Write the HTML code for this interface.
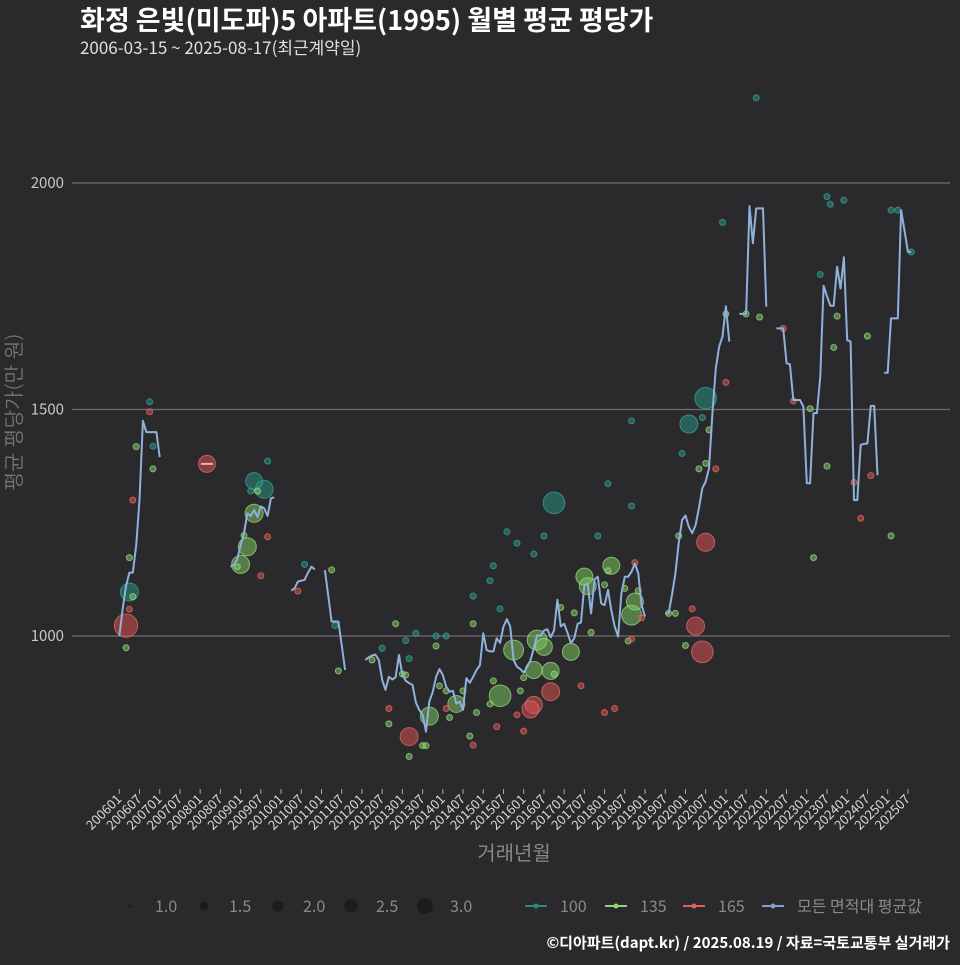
<!DOCTYPE html>
<html><head><meta charset="utf-8">
<style>
html,body{margin:0;padding:0;background:#2a2a2c;}
body{width:960px;height:960px;overflow:hidden;font-family:"Noto Sans CJK KR","Liberation Sans",sans-serif;}
svg text{font-family:"Noto Sans CJK KR","Liberation Sans",sans-serif;}
</style></head>
<body>
<svg id="chart" width="960" height="960" viewBox="0 0 960 960" xmlns="http://www.w3.org/2000/svg">
<rect x="0" y="0" width="960" height="960" fill="#2a2a2c"/>
<text x="80" y="30" font-size="27" font-weight="bold" fill="#ffffff">화정 은빛(미도파)5 아파트(1995) 월별 평균 평당가</text>
<text x="80" y="54" font-size="17" fill="#e0e0e0">2006-03-15 ~ 2025-08-17(최근계약일)</text>
<g id="grid"></g>
<g id="yticks"></g>
<g id="xticks"></g>
<g id="bubbles"></g>
<g id="lines"></g>
<text transform="translate(21,412) rotate(-90)" text-anchor="middle" font-size="20" fill="#777" style="font-family:'NanumGothic','Noto Sans CJK KR',sans-serif">평균 평당가(만 원)</text>
<text x="514" y="860" text-anchor="middle" font-size="20" fill="#888">거래년월</text>
<g id="legend"></g>
<text x="950" y="948" text-anchor="end" font-size="15" font-weight="bold" fill="#ffffff">©디아파트(dapt.kr) / 2025.08.19 / 자료=국토교통부 실거래가</text>
</svg>
<script>
// ---- data ----
const yTicks = [1000, 1500, 2000];
const xTickLabels = ['200601','200607','200701','200707','200801','200807','200901','200907','201001','201007','201101','201107','201201','201207','201301','201307','201401','201407','201501','201507','201601','201607','201701','201707','201801','201807','201901','201907','202001','202007','202101','202107','202201','202207','202301','202307','202401','202407','202501','202507'];
// average line segments: start month and monthly values
const lineStarts = ['200601','200810','201004','201102','201202','201907','202105','202204','202412'];
const lineValues = [
 [1000,1060,1110,1140,1140,1200,1300,1475,1450,1450,1450,1450,1395],
 [1153,1157,1170,1200,1227,1271,1265,1278,1263,1286,1282,1265,1304,1306],
 [1100,1105,1120,1122,1124,1140,1153,1147],
 [1145,1090,1032,1032,1032,980,925],
 [947,953,957,959,947,903,881,910,904,909,958,913,901,896,892,853,837,826,789,855,876,910,927,914,888,877,879,851,855,837,907,897,910,925,935,1006,969,966,966,995,985,1021,1037,1021,947,932,927,919,932,946,973,1002,1000,1012,1015,997,1012,1080,1021,1027,1007,984,995,1027,1030,1113,1115,1050,1125,1131,1072,1068,1102,1057,1021,999,1094,1131,1131,1142,1160,1138,1068,1043],
 [1050,1050,1091,1138,1205,1256,1266,1241,1227,1245,1282,1326,1341,1370,1491,1591,1639,1661,1728,1650],
 [1711,1711,1711,1949,1867,1944,1944,1944,1727],
 [1679,1679,1679,1602,1600,1521,1521,1521,1506,1337,1337,1492,1492,1573,1773,1750,1729,1729,1815,1767,1836,1653,1650,1300,1300,1422,1424,1425,1508,1508,1355],
 [1581,1581,1701,1701,1701,1940,1895,1848,1848]
];
// bubbles (parallel arrays): month, value, count, area type
const bubbleMonths = [
'200610','200610','200606','200611','200611','200605','200604','200604','200605','200604',
'200603','200603','200803','200909','200905','200908','200904','200906','200905','200909',
'200902','200903','200901','200812','200907','201008','201006','201104','201105','201106',
'201610','201802','201809','201508','201511','201607','201711','201604','201504','201503',
'201410','201506','201211','201410','201810','201803','201707','201708','201802','201801',
'201807','201811','201810','201809','201812','201704','201612','201709','201808','201809',
'201305','201311','201402','201207','201302','201303','201311','201204','201301','201302',
'201510','201605','201607','201604','201609','201703','201601','201610','201504','201512',
'201312','201402','201407','201506','201405','201309','201609','201604','201603','201706',
'201209','201402','201801','201804','201511','201505','201601','201410','201303','201209',
'201411','201503','201403','201409','201307','201308','201303','202307','202308','202312',
'202012','202502','202504','202508','202305','202310','202309','202407','202101','202107',
'202111','202206','202101','202209','202302','202007','202006','202002','202008','201912',
'202007','202005','202010','202307','202403','202408','202405','202502','202303','201911',
'202007','201908','201910','202003','202004','202001','202006','201809','202110'];
const bubbleValues = [
1517,1495,1418,1419,1369,1300,1173,1097,1087,1059,
1023,974,1380,1386,1342,1324,1320,1320,1271,1219,
1222,1197,1158,1153,1133,1158,1099,1146,1023,923,
1294,1336,1287,1230,1205,1221,1221,1181,1155,1122,
1088,1060,1027,1027,1162,1155,1131,1110,1144,1113,
1105,1100,1076,1046,1040,1051,1063,1008,989,993,
1006,1000,1000,973,990,950,978,947,916,914,
969,991,976,925,923,965,908,916,901,879,
890,879,879,868,850,823,877,848,838,890,
840,840,831,840,826,800,790,759,778,806,
831,850,820,779,758,758,734,1970,1953,1962,
1913,1940,1940,1848,1798,1706,1637,1662,1711,1711,
1704,1679,1560,1519,1502,1525,1482,1468,1455,1403,
1381,1369,1369,1375,1339,1354,1260,1221,1173,1221,
1207,1050,1050,1060,1022,979,965,1475,2188];
const bubbleCounts = [
1,1,1,1,1,1,1,9,1,1,
15,1,8,1,8,9,1,1,9,1,
1,9,9,1,1,1,1,1,1,1,
13,1,1,1,1,1,1,1,1,1,
1,1,1,1,1,8,8,8,1,1,
1,1,8,11,1,1,1,1,1,1,
1,1,1,1,1,1,1,1,1,1,
11,11,8,8,8,8,1,1,1,1,
1,1,1,13,8,9,9,8,8,1,
1,1,1,1,1,1,1,1,9,1,
1,1,1,1,1,1,1,1,1,1,
1,1,1,1,1,1,1,1,1,1,
1,1,1,1,1,13,1,9,1,1,
1,1,1,1,1,1,1,1,1,1,
9,1,1,1,9,1,13,1,1];
const bubbleTypes = [
'100','165','135','100','135','165','135','100','135','165',
'165','135','165','100','100','100','100','135','135','165',
'135','135','135','135','165','100','165','135','100','135',
'100','100','100','100','100','100','100','100','100','100',
'100','100','135','135','165','135','135','135','135','135',
'135','135','135','135','165','135','135','135','135','165',
'100','100','100','100','100','100','135','135','135','135',
'135','135','135','135','135','135','135','135','135','135',
'135','135','135','135','135','135','165','165','165','165',
'165','165','165','165','165','165','165','165','165','135',
'135','135','135','135','135','135','135','100','100','100',
'100','100','100','100','100','135','135','135','135','135',
'135','165','165','165','135','100','100','100','135','100',
'135','135','165','135','165','165','165','135','135','135',
'165','135','135','165','165','135','165','100','100'];
// ---- scales ----
const X0 = 119.3, PXM = 3.37;
function monthIndex(s){ return (parseInt(s.slice(0,4))-2006)*12 + parseInt(s.slice(4,6))-1; }
function xs(m){ return X0 + m*PXM; }
function ys(v){ return 636 - (v-1000)*0.453; }
function rs(n){ return 3*Math.sqrt(n); }
const NS='http://www.w3.org/2000/svg';
function mk(tag, attrs, parent){ const e=document.createElementNS(NS,tag); for(const k in attrs) e.setAttribute(k, attrs[k]); parent.appendChild(e); return e; }
const colors = {'100':'rgba(40,140,128,0.55)','135':'rgba(130,205,100,0.5)','165':'rgba(215,80,80,0.55)'};
const strokes = {'100':'rgba(60,170,155,0.7)','135':'rgba(160,230,130,0.7)','165':'rgba(240,110,110,0.7)'};
// grid + y ticks
const grid=document.getElementById('grid'), yt=document.getElementById('yticks');
yTicks.forEach(v=>{
  const l=mk('line',{x1:72,x2:950,y1:ys(v),y2:ys(v),stroke:'#6e6e6e','stroke-width':1.2},grid);
  
  
  const t=mk('text',{x:64,y:ys(v)+5,'text-anchor':'end','font-size':15,fill:'#c8c8c8'},yt);
  t.textContent=v;
  
  
});
// x ticks
const xt=document.getElementById('xticks');
xTickLabels.forEach(lbl=>{
  const x=xs(monthIndex(lbl));
  const tk=mk('line',{x1:x,x2:x,y1:789,y2:794,stroke:'#aaa','stroke-width':1},xt);
  
  
  const t=mk('text',{x:x+3,y:800,'text-anchor':'end','font-size':13,fill:'#d8d8d8',transform:'rotate(-45 '+(x+3)+' 800)'},xt);
  t.textContent=lbl;
  
  
});
// bubbles
const bg=document.getElementById('bubbles');
const order=bubbleCounts.map((c,i)=>i).sort((a,b)=>bubbleCounts[b]-bubbleCounts[a]);
order.forEach(i=>{
  const tp=bubbleTypes[i];
  const c=mk('circle',{cx:xs(monthIndex(bubbleMonths[i])),cy:ys(bubbleValues[i]),r:rs(bubbleCounts[i]),fill:colors[tp],stroke:strokes[tp],'stroke-width':1},bg);
  
  
});
// red short line 2008
const rl=mk('line',{x1:xs(monthIndex('200803'))-6,x2:xs(monthIndex('200803'))+6,y1:ys(1380),y2:ys(1380),stroke:'#f0b0b0','stroke-width':2},bg);


// average line
const lg=document.getElementById('lines');
lineStarts.forEach((s,k)=>{
  const m0=monthIndex(s);
  const pts=lineValues[k].map((v,j)=>xs(m0+j).toFixed(1)+','+ys(v).toFixed(1)).join(' ');
  const p=mk('polyline',{points:pts,fill:'none',stroke:'#8fb1dc','stroke-width':2,'stroke-linejoin':'round'},lg);
  
  
});
// legend
const leg=document.getElementById('legend');
const sizeLabels=['1.0','1.5','2.0','2.5','3.0'];
const sizeR=[1.8,4.5,5.8,6.8,7.8];
const sizeX=[130,204,278,351,425];
sizeLabels.forEach((s,i)=>{
  const c=mk('circle',{cx:sizeX[i],cy:906,r:sizeR[i],fill:'#1c1c1e'},leg);
  
  
  const t=mk('text',{x:sizeX[i]+25,y:912,'font-size':16,fill:'#8a8a8a'},leg);
  t.textContent=s;
  
  
});
const colLabels=['100','135','165','모든 면적대 평균값'];
const colLine=['#2a8a80','#8fd870','#e06060','#7f9fc8'];
const colX=[525,605,683,762];
colLabels.forEach((s,i)=>{
  const l=mk('line',{x1:colX[i],x2:colX[i]+22,y1:906,y2:906,stroke:colLine[i],'stroke-width':2},leg);
  
  
  const d=mk('circle',{cx:colX[i]+11,cy:906,r:2.5,fill:colLine[i]},leg);
  
  
  const t=mk('text',{x:colX[i]+35,y:912,'font-size':16,fill:'#8a8a8a'},leg);
  t.textContent=s;
  
  
});
</script>
</body></html>
